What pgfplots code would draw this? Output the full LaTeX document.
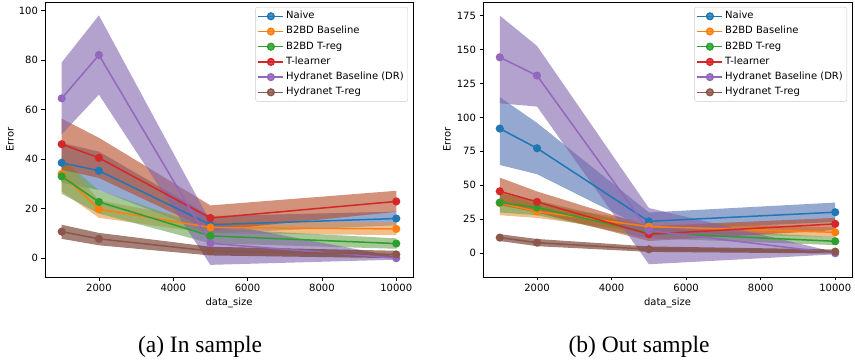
\documentclass[border=0pt]{standalone}
\usepackage{pgfplots}
\pgfplotsset{compat=1.18}
\usepackage{fontspec}
\setmainfont{Liberation Serif}
\newfontfamily\dejavu{DejaVu Sans}

\definecolor{cblue}{RGB}{31,119,180}
\definecolor{corange}{RGB}{255,127,14}
\definecolor{cgreen}{RGB}{44,160,44}
\definecolor{cred}{RGB}{214,39,40}
\definecolor{cpurple}{RGB}{148,103,189}
\definecolor{cbrown}{RGB}{140,86,75}
\definecolor{bblue}{RGB}{77,110,177}
\definecolor{borange}{RGB}{233,147,63}
\definecolor{bgreen}{RGB}{105,163,80}
\definecolor{bred}{RGB}{180,73,37}
\definecolor{bpurple}{RGB}{127,100,172}
\definecolor{bbrown}{RGB}{105,43,27}

\pgfplotsset{
  myaxis/.style={
    scale only axis,
    width=368pt, height=275pt,
    xmin=550, xmax=10450,
    xtick={2000,4000,6000,8000,10000},
    scaled x ticks=false, scaled y ticks=false,
    tick align=outside,
    xtick pos=bottom, ytick pos=left,
    major tick length=3.5pt,
    tick style={black, line width=0.6pt},
    axis line style={line width=0.6pt},
    /pgf/number format/assume math mode=true,
    /pgf/number format/1000 sep={},
    ticklabel style={font=\dejavu\fontsize{10}{12}\selectfont},
    label style={font=\dejavu\fontsize{10}{12}\selectfont},
    xlabel={data\_size},
    ylabel={Error},
    xlabel style={at={(axis description cs:0.5,-0.0945)}, anchor=center},
    legend cell align=left,
    legend style={
      at={(1,1)}, anchor=north east, xshift=-5pt, yshift=-5pt,
      draw=black!20, rounded corners=2pt, fill=white, fill opacity=0.8, text opacity=1,
      font=\dejavu\fontsize{10}{12}\selectfont,
      inner xsep=2pt, inner ysep=1.5pt,
      row sep=0pt,
      nodes={inner ysep=2.6pt, inner xsep=2pt, text height=7.5pt, text depth=2.5pt},
    },
    legend image code/.code={\draw[mark repeat=2,mark phase=2] plot coordinates {(0pt,0pt)(12.5pt,0pt)(25pt,0pt)};},
  },
  ln/.style={color=#1, line width=1.5pt, mark=*, mark size=3.3pt, mark options={solid, fill=#1, draw=#1}},
  band/.style={fill=#1, fill opacity=0.6, draw=none, forget plot},
}

\begin{document}
\begin{tikzpicture}
\useasboundingbox (0pt,0pt) rectangle (855pt,362pt);

% ---------------- (a) In sample ----------------
\begin{axis}[myaxis, at={(45pt,85pt)}, anchor=south west,
  ymin=-7.6, ymax=103.4, ytick={0,20,40,60,80,100},
  ylabel style={at={(axis description cs:-0.095,0.5)}, anchor=center}]
\addplot[band=bblue] coordinates {(1000,46.5)(2000,43.0)(5000,17.0)(10000,18.8)(10000,13.3)(5000,10.0)(2000,27.5)(1000,30.5)};
\addplot[band=borange] coordinates {(1000,41)(2000,23.3)(5000,14.8)(10000,14.4)(10000,9.3)(5000,10)(2000,16.3)(1000,27)};
\addplot[band=bgreen] coordinates {(1000,40)(2000,27.4)(5000,12)(10000,8.0)(10000,3.8)(5000,6)(2000,18)(1000,26)};
\addplot[band=bred] coordinates {(1000,56.3)(2000,48.6)(5000,21.3)(10000,27.2)(10000,18.7)(5000,11.1)(2000,32.4)(1000,35.7)};
\addplot[band=bpurple] coordinates {(1000,79)(2000,98)(5000,14.7)(10000,0.6)(10000,-0.6)(5000,-2.7)(2000,66)(1000,50)};
\addplot[band=bbrown] coordinates {(1000,13.5)(2000,10.2)(5000,4.6)(10000,3.0)(10000,0.0)(5000,1.1)(2000,5.2)(1000,7.8)};

\addplot[ln=cblue] coordinates {(1000,38.5)(2000,35.3)(5000,13.5)(10000,16.0)};
\addlegendentry{Naive}
\addplot[ln=corange] coordinates {(1000,34.0)(2000,19.8)(5000,12.4)(10000,11.8)};
\addlegendentry{B2BD Baseline}
\addplot[ln=cgreen] coordinates {(1000,33.0)(2000,22.7)(5000,9.0)(10000,5.9)};
\addlegendentry{B2BD T-reg}
\addplot[ln=cred] coordinates {(1000,46.0)(2000,40.5)(5000,16.2)(10000,22.9)};
\addlegendentry{T-learner}
\addplot[ln=cpurple] coordinates {(1000,64.5)(2000,82.0)(5000,6.0)(10000,0.0)};
\addlegendentry{Hydranet Baseline (DR)}
\addplot[ln=cbrown] coordinates {(1000,10.7)(2000,7.8)(5000,2.9)(10000,1.5)};
\addlegendentry{Hydranet T-reg}
\end{axis}

% ---------------- (b) Out sample ----------------
\begin{axis}[myaxis, at={(483pt,85pt)}, anchor=south west, width=369pt,
  ymin=-17.5, ymax=185, ytick={0,25,50,75,100,125,150,175},
  ylabel style={at={(axis description cs:-0.0976,0.5)}, anchor=center}]
\addplot[band=bblue] coordinates {(1000,115)(2000,96)(5000,30)(10000,37.3)(10000,23)(5000,17)(2000,58.2)(1000,65)};
\addplot[band=borange] coordinates {(1000,45)(2000,36)(5000,23)(10000,19)(10000,12)(5000,15)(2000,26)(1000,28)};
\addplot[band=bgreen] coordinates {(1000,44)(2000,39)(5000,19)(10000,12)(10000,6)(5000,11)(2000,28)(1000,30)};
\addplot[band=bred] coordinates {(1000,55.7)(2000,45.5)(5000,20)(10000,26)(10000,17)(5000,9)(2000,30)(1000,35.5)};
\addplot[band=bpurple] coordinates {(1000,175)(2000,152.6)(5000,33.3)(10000,0.8)(10000,-0.8)(5000,-8.1)(2000,108)(1000,110.4)};
\addplot[band=bbrown] coordinates {(1000,14)(2000,10.5)(5000,5)(10000,2.8)(10000,-0.2)(5000,1)(2000,5.2)(1000,9)};

\addplot[ln=cblue] coordinates {(1000,91.8)(2000,77.3)(5000,23.5)(10000,30.2)};
\addlegendentry{Naive}
\addplot[ln=corange] coordinates {(1000,37.0)(2000,30.7)(5000,19.6)(10000,15.4)};
\addlegendentry{B2BD Baseline}
\addplot[ln=cgreen] coordinates {(1000,37.3)(2000,33.6)(5000,15.0)(10000,8.8)};
\addlegendentry{B2BD T-reg}
\addplot[ln=cred] coordinates {(1000,45.6)(2000,37.8)(5000,14.0)(10000,21.6)};
\addlegendentry{T-learner}
\addplot[ln=cpurple] coordinates {(1000,144.3)(2000,130.8)(5000,16.7)(10000,0.0)};
\addlegendentry{Hydranet Baseline (DR)}
\addplot[ln=cbrown] coordinates {(1000,11.5)(2000,7.8)(5000,2.9)(10000,1.2)};
\addlegendentry{Hydranet T-reg}
\end{axis}

\node[anchor=base, font=\fontsize{23.5}{26}\selectfont] at (200pt,9.5pt) {(a) In sample};
\node[anchor=base, font=\fontsize{23.5}{26}\selectfont] at (639pt,9.5pt) {(b) Out sample};
\end{tikzpicture}
\end{document}
